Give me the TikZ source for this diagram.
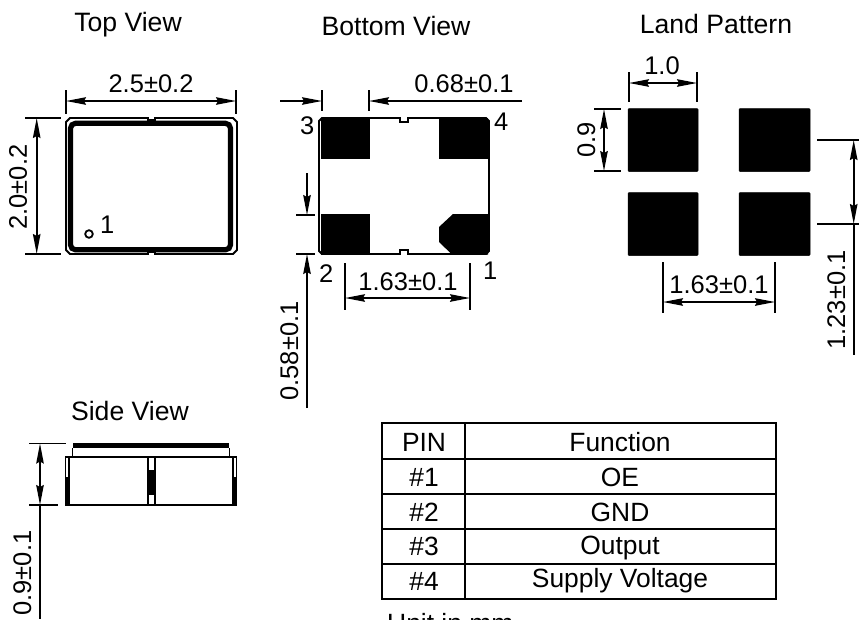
\documentclass[tikz,border=0pt]{standalone}
\usepackage{fontspec}
\setmainfont{Liberation Sans}
\usetikzlibrary{arrows.meta}
\tikzset{
  x=1pt,y=-1pt,
  dimline/.style={line width=1.6pt,black},
  extline/.style={line width=1.6pt,black},
  tipboth/.style={{Stealth[length=20pt,width=7.5pt,inset=2pt]}-{Stealth[length=20pt,width=7.5pt,inset=2pt]}},
  tipend/.style={-{Stealth[length=20pt,width=7.5pt,inset=2pt]}},
  lab/.style={inner sep=0pt,anchor=base,font=\fontsize{25.5}{30}\selectfont},
  vlab/.style={inner sep=0pt,anchor=base,rotate=90,font=\fontsize{25.5}{30}\selectfont},
  title/.style={inner sep=0pt,anchor=base,font=\fontsize{26.6}{30}\selectfont},
  cell/.style={inner sep=0pt,anchor=base,font=\fontsize{26.4}{30}\selectfont},
  body/.style={line width=1.8pt,black},
  pad/.style={fill=black,draw=none},
  landpad/.style={fill=black,draw=black,line width=0.5pt,rounded corners=1pt},
}
\begin{document}
\begin{tikzpicture}
\useasboundingbox (0,0) rectangle (859,619);
\clip (0,0) rectangle (859,619);
% titles
\node[title] (tTop) at (128,31) {Top View};
\node[title] (tBottom) at (396,35) {Bottom View};
\node[title] (tLand) at (716,33) {Land Pattern};
\node[title] (tSide) at (130,420) {Side View};
% ---- top view
\draw[body] (70,118) -- (148,118) -- (148,120) -- (155,120) -- (155,118) -- (233,118) -- (237,122)
  -- (237,250) -- (233,254) -- (155,254) -- (155,252) -- (148,252) -- (148,254) -- (70,254) -- (66,250) -- (66,122) -- cycle;
\draw[line width=5.2pt,rounded corners=5pt] (70.5,123.3) rectangle (230.5,249.8);
\draw[line width=1.8pt] (89,234) circle (3.8);
\node[lab,anchor=base west] (pinT) at (100,233) {1};
\draw[extline] (66,90) -- (66,114);
\draw[extline] (236,90) -- (236,114);
\draw[dimline,tipboth] (66,101) -- (236,101);
\node[lab] (d25) at (151,92) {2.5±0.2};
\draw[extline] (25,118) -- (61,118);
\draw[extline] (25,254) -- (61,254);
\draw[dimline,tipboth] (36.7,118) -- (36.7,254);
\node[vlab] (d20) at (27,187) {2.0±0.2};
% ---- bottom view
\draw[body] (322,118) -- (400,118) -- (400,122) -- (408,122) -- (408,118) -- (486,118) -- (489,121)
  -- (489,251) -- (486,254) -- (408,254) -- (408,250) -- (400,250) -- (400,254) -- (322,254) -- (319,251) -- (319,121) -- cycle;
\fill[pad] (321,118) rectangle (370,158.5);
\fill[pad] (439,118) rectangle (488,158.5);
\fill[pad] (321,214) rectangle (370,254.5);
\fill[pad] (453,214) -- (488,214) -- (488,254.5) -- (452,254.5) -- (439,242) -- (439,227) -- cycle;
\node[lab,anchor=base west] (pin3) at (300,134) {3};
\node[lab,anchor=base west] (pin4) at (494,130) {4};
\node[lab,anchor=base west] (pin2) at (319,282) {2};
\node[lab,anchor=base west] (pin1) at (483,279) {1};
\draw[extline] (322,90) -- (322,111);
\draw[extline] (369,90) -- (369,111);
\draw[dimline,tipend] (280,101) -- (322,101);
\draw[dimline,tipend] (522,101) -- (369,101);
\node[lab] (d68) at (464,92) {0.68±0.1};
\draw[extline] (296,215) -- (314.5,215);
\draw[extline] (296,254) -- (314.5,254);
\draw[dimline,tipend] (307,173) -- (307,215);
\draw[dimline,tipend] (307,408) -- (307,254);
\node[vlab] (d58) at (298,351) {0.58±0.1};
\draw[extline] (345,263) -- (345,310);
\draw[extline] (470,263) -- (470,310);
\draw[dimline,tipboth] (345,298) -- (470,298);
\node[lab] (d163a) at (408,290) {1.63±0.1};
% ---- land pattern
\draw[landpad] (628,108.5) rectangle (698,171.5);
\draw[landpad] (739,108.5) rectangle (810,171.5);
\draw[landpad] (628,192.5) rectangle (698,255.5);
\draw[landpad] (739,192.5) rectangle (810,255.5);
\draw[extline] (629,72) -- (629,102);
\draw[extline] (697,72) -- (697,102);
\draw[dimline,tipboth] (629,83) -- (697,83);
\node[lab] (d10) at (662,74) {1.0};
\draw[extline] (594,109) -- (621,109);
\draw[extline] (594,171) -- (621,171);
\draw[dimline,tipboth] (604,109) -- (604,171);
\node[vlab] (d09) at (595,140) {0.9};
\draw[extline] (817,140) -- (859,140);
\draw[extline] (817,224) -- (859,224);
\draw[dimline,tipboth] (853.7,140) -- (853.7,224);
\draw[dimline] (853.7,224) -- (853.7,355);
\node[vlab] (d123) at (845,300) {1.23±0.1};
\draw[extline] (663,262) -- (663,313);
\draw[extline] (775,262) -- (775,313);
\draw[dimline,tipboth] (663,302) -- (775,302);
\node[lab] (d163b) at (719,293) {1.63±0.1};
% ---- side view
\fill[black] (73,443) rectangle (229,448);
\draw[body] (72.5,448) -- (72.5,457);
\draw[body] (229.5,448) -- (229.5,457);
\draw[body] (65.5,457) rectangle (236.5,505);
\fill[black] (65,477) rectangle (70,505.5);
\fill[black] (232,477) rectangle (237,505.5);
\draw[line width=1.2pt] (69,457) -- (69,477);
\draw[line width=1.2pt] (233,457) -- (233,477);
\draw[line width=1.5pt] (148,457) -- (148,505);
\draw[line width=1.5pt] (155,457) -- (155,505);
\fill[black] (147.5,470) rectangle (155.5,495);
\draw[extline] (29,443.5) -- (66,443.5);
\draw[extline] (29,505) -- (58,505);
\draw[dimline,tipboth] (40,443.5) -- (40,505);
\draw[dimline] (40,505) -- (40,619);
\node[vlab] (d09b) at (31,573) {0.9±0.1};
% ---- table
\draw[line width=1.7pt] (382,423) rectangle (776,599);
\draw[line width=1.7pt] (465,423) -- (465,599);
\foreach \yy in {459,494,529,564}{\draw[line width=1.7pt] (382,\yy) -- (776,\yy);}
\node[cell] (c1) at (424,451) {PIN};
\node[cell] (c2) at (424,486) {\#1};
\node[cell] (c3) at (424,521) {\#2};
\node[cell] (c4) at (424,555) {\#3};
\node[cell] (c5) at (424,590) {\#4};
\node[cell] (f1) at (620,451) {Function};
\node[cell] (f2) at (620,486) {OE};
\node[cell] (f3) at (620,521) {GND};
\node[cell] (f4) at (620,554) {Output};
\node[cell] (f5) at (620,587) {Supply Voltage};
\node[cell,anchor=base west] (unit) at (387,632) {Unit in mm};
\end{tikzpicture}
\end{document}
